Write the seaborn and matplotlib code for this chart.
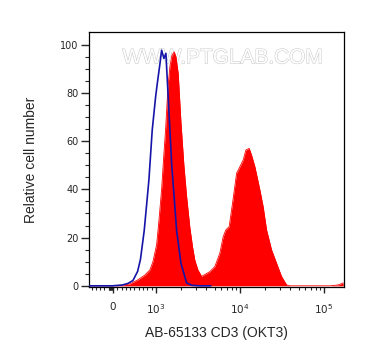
import numpy as np
import pandas as pd
import matplotlib
matplotlib.use("Agg")
import matplotlib.pyplot as plt
import matplotlib.patheffects as pe
import seaborn as sns

# CD3 stained sample (filled red histogram)
cd3_x = [-550, 0, 202, 395, 581, 744, 860, 930, 1019, 1086, 1169, 1235, 1305, 1389,
         1468, 1550, 1651, 1730, 1843, 1985, 2154, 2321, 2540, 2735, 2913, 3162,
         3499, 4395, 5035, 5777, 6325, 6808, 7460, 8185, 9135, 10000, 10950,
         11780, 12900, 13780, 15090, 17300, 18940, 20790, 23850, 27340, 31350,
         35960, 39380, 60000, 120000, 150000, 170000]
cd3_y = [0, 0, 0.3, 0.8, 2.5, 4.5, 6.6, 10, 17, 27, 40, 53, 65, 82,
         91, 95.5, 97, 95, 88, 68, 50, 37, 24, 16, 10.5, 6.6,
         3.9, 5.9, 8, 13.6, 20.4, 23.2, 24.6, 34.4, 46.7, 49.4, 52.2,
         56.3, 57, 54.2, 49.4, 39.8, 32.8, 23.2, 14.9, 9.4, 3.9,
         0.4, 0, 0, 0, 0.4, 1.2]

# isotype control (blue line)
ctrl_x = [-550, 0, 47, 209, 349, 465, 574, 640, 728, 837, 914, 993, 1048, 1116,
          1169, 1245, 1315, 1401, 1538, 1764, 1985, 2321, 2683, 3341, 4500]
ctrl_y = [0, 0, 0.1, 0.3, 1.0, 2.2, 6, 11, 23, 44, 64.6, 78.4, 85, 92,
          97.7, 94.3, 96.4, 78, 50.8, 23, 9.4, 1.2, 0.2, 0, 0]

major_ticks = [0, 1e3, 1e4, 1e5]
major_labels = ["0", "$10^{3}$", "$10^{4}$", "$10^{5}$"]

cd3 = pd.DataFrame({"x": cd3_x, "y": cd3_y})
ctrl = pd.DataFrame({"x": ctrl_x, "y": ctrl_y})

sns.set_style("ticks")
plt.rcParams["font.family"] = ["DejaVu Sans"]

fig = plt.figure(figsize=(3.65, 3.57), dpi=100)
ax = fig.add_axes([0.244, 0.196, 0.698, 0.714])

ax.set_xscale("symlog", linthresh=1000, linscale=0.46)

ax.fill_between(cd3["x"], cd3["y"], 0, color="#ff0000", lw=0, zorder=2)
sns.lineplot(data=cd3, x="x", y="y", color="#ff0000", lw=0.6, ax=ax, zorder=2)
sns.lineplot(data=ctrl, x="x", y="y", color="#1414a8", lw=1.2, ax=ax, zorder=3)

ax.text(0.525, 0.899, "WWW.PTGLAB.COM", transform=ax.transAxes, ha="center",
        va="center", fontsize=15, family="Liberation Sans", color="white",
        zorder=1, path_effects=[pe.withStroke(linewidth=0.8, foreground="#cccccc")])

ax.set_xlim(-558, 173000)
ax.set_ylim(-0.5, 105.2)

ax.set_xticks(major_ticks)
ax.set_xticklabels(major_labels)
minor = [-500, -400, -300, -200] + list(range(-100, 0, 10)) + list(range(100, 1000, 100))
for d in [1e3, 1e4, 1e5]:
    minor += [k * d for k in range(2, 10) if k * d < 173000]
ax.set_xticks(minor, minor=True)

ax.set_yticks([0, 20, 40, 60, 80, 100])
ax.set_yticks(range(0, 105, 5), minor=True)

ax.tick_params(axis="y", which="major", length=5.5, width=1, labelsize=7, pad=2)
ax.tick_params(axis="y", which="minor", length=3, width=0.8)
ax.tick_params(axis="x", which="major", length=4.5, width=1, labelsize=7.5, pad=6.5)
ax.tick_params(axis="x", which="minor", length=2.3, width=0.8)

for s in ax.spines.values():
    s.set_linewidth(0.9)
    s.set_color("black")

ax.set_xlabel("AB-65133 CD3 (OKT3)", fontsize=10, family="Liberation Sans", labelpad=7)
ax.set_ylabel("Relative cell number", fontsize=10, family="Liberation Sans", labelpad=16)

fig.savefig("out.png", dpi=100)
